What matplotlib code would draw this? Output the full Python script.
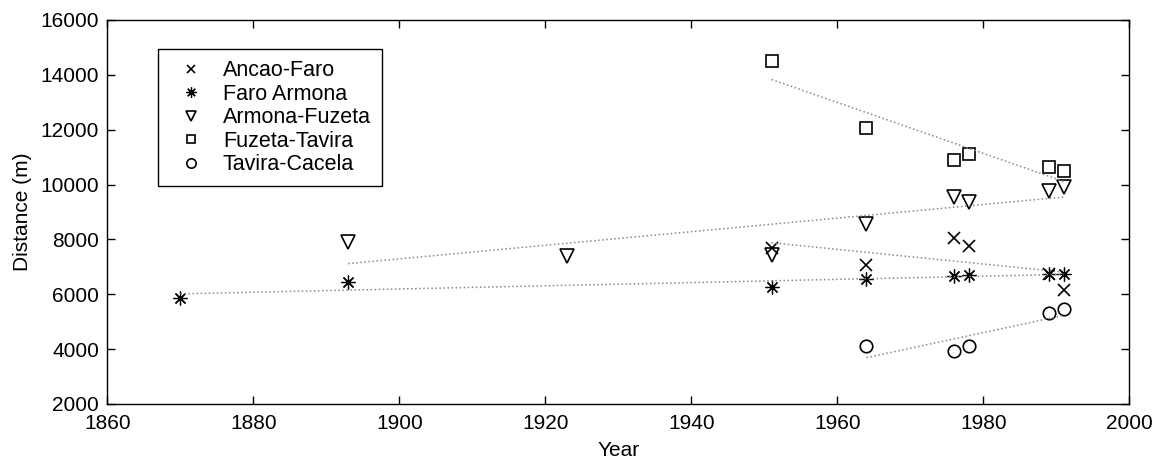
import numpy as np
import matplotlib.pyplot as plt

plt.rcParams['font.family'] = ['Liberation Sans', 'DejaVu Sans']

# inlet-to-inlet distances (m) by survey year
ancao_yr = [1951, 1964, 1976, 1978, 1989, 1991]
ancao_d = [7700, 7050, 8050, 7750, 6750, 6150]

faro_yr = [1870, 1893, 1951, 1964, 1976, 1978, 1989, 1991]
faro_d = [5850, 6450, 6250, 6550, 6650, 6700, 6750, 6750]

armona_yr = [1893, 1923, 1951, 1964, 1976, 1978, 1989, 1991]
armona_d = [7900, 7400, 7450, 8550, 9550, 9350, 9750, 9900]

fuzeta_yr = [1951, 1964, 1976, 1978, 1989, 1991]
fuzeta_d = [14500, 12050, 10900, 11100, 10650, 10500]

tavira_yr = [1964, 1976, 1978, 1989, 1991]
tavira_d = [4100, 3950, 4100, 5300, 5450]

series = [
    ('Ancao-Faro', ancao_yr, ancao_d, 'x', 8, 1.2),
    ('Faro Armona', faro_yr, faro_d, (8, 2, 0), 10, 0.9),
    ('Armona-Fuzeta', armona_yr, armona_d, 'v', 10, 1.2),
    ('Fuzeta-Tavira', fuzeta_yr, fuzeta_d, 's', 8, 1.2),
    ('Tavira-Cacela', tavira_yr, tavira_d, 'o', 9, 1.2),
]

fig = plt.figure(figsize=(11.58, 4.65), dpi=100)
ax = fig.add_axes([0.0927, 0.1312, 0.8825, 0.8258])

for name, yr, d, mk, ms, mw in series:
    yr = np.array(yr)
    d = np.array(d)
    ax.plot(yr, d, ls='none', marker=mk, ms=ms, mfc='none', mec='black',
            mew=mw, label=name)
    # linear trend over the span of each series
    p = np.polyfit(yr, d, 1)
    xs = np.array([yr.min(), yr.max()])
    ax.plot(xs, np.polyval(p, xs), ls=':', color='#888888', lw=1.1)

ax.set_xlim(1860, 2000)
ax.set_ylim(2000, 16000)
ax.set_xticks(np.arange(1860, 2001, 20))
ax.set_yticks(np.arange(2000, 16001, 2000))
ax.tick_params(direction='in', length=6, top=True, right=True,
               labelsize=15, width=1)
ax.tick_params(axis='x', pad=7)
ax.tick_params(axis='y', pad=6)
for s in ax.spines.values():
    s.set_linewidth(1)
ax.set_xlabel('Year', fontsize=15, labelpad=6)
ax.set_ylabel('Distance (m)', fontsize=15, labelpad=6)

leg = ax.legend(loc='upper left', bbox_to_anchor=(0.0499, 0.9237),
                borderaxespad=0, fontsize=15.5, markerscale=0.75,
                fancybox=False, edgecolor='black', framealpha=1,
                handletextpad=0.5, labelspacing=0.12, borderpad=0.5,
                handlelength=2.0)
leg.get_frame().set_linewidth(1)

fig.savefig('out.png', dpi=100)
